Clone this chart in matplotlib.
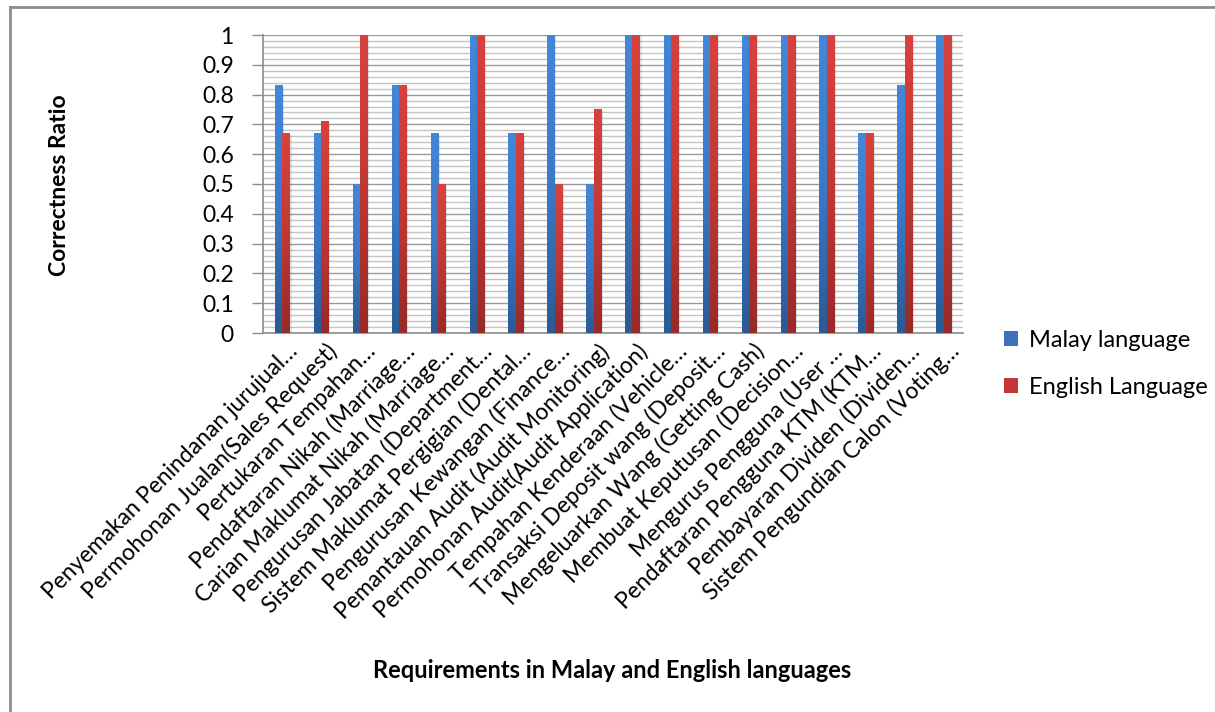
import numpy as np
import matplotlib
matplotlib.use("Agg")
import matplotlib.pyplot as plt
from matplotlib.colors import LinearSegmentedColormap
from matplotlib.patches import Patch
from matplotlib.ticker import MultipleLocator, FormatStrFormatter
from matplotlib.transforms import ScaledTranslation

requirements = [
    "Penyemakan Penindanan jurujual…",
    "Permohonan Jualan(Sales Request)",
    "Pertukaran Tempahan…",
    "Pendaftaran Nikah (Marriage…",
    "Carian Maklumat Nikah (Marriage…",
    "Pengurusan Jabatan (Department…",
    "Sistem Maklumat Pergigian (Dental…",
    "Pengurusan Kewangan (Finance…",
    "Pemantauan Audit (Audit Monitoring)",
    "Permohonan Audit(Audit Application)",
    "Tempahan Kenderaan (Vehicle…",
    "Transaksi Deposit wang (Deposit…",
    "Mengeluarkan Wang (Getting Cash)",
    "Membuat Keputusan (Decision…",
    "Mengurus Pengguna (User …",
    "Pendaftaran Pengguna KTM (KTM…",
    "Pembayaran Dividen (Dividen…",
    "Sistem Pengundian Calon (Voting…",
]
malay = [0.83, 0.67, 0.50, 0.83, 0.67, 1.00, 0.67, 1.00, 0.50,
         1.00, 1.00, 1.00, 1.00, 1.00, 1.00, 0.67, 0.83, 1.00]
english = [0.67, 0.71, 1.00, 0.83, 0.50, 1.00, 0.67, 0.50, 0.75,
           1.00, 1.00, 1.00, 1.00, 1.00, 1.00, 0.67, 1.00, 1.00]
series_names = ["Malay language", "English Language"]

plt.rcParams['font.family'] = ['Lato', 'DejaVu Sans']

W, H = 1215, 712
fig = plt.figure(figsize=(W / 100, H / 100), dpi=100)

# outer chart frame (only top and left edges fall inside the canvas)
fig.add_artist(plt.Line2D([10 / W, 10 / W], [0, 1 - 7 / H], transform=fig.transFigure,
                          color="#8c8c8c", lw=2))
fig.add_artist(plt.Line2D([10 / W, 1], [1 - 7 / H, 1 - 7 / H], transform=fig.transFigure,
                          color="#8c8c8c", lw=2))

ax = fig.add_axes([263 / W, 1 - 333 / H, 700 / W, 298 / H])

x = np.arange(len(requirements))
bw = 0.19

blue_cmap = LinearSegmentedColormap.from_list("blue_grad", ["#2b5a94", "#3b79c9", "#4486d8"])
red_cmap = LinearSegmentedColormap.from_list("red_grad", ["#982a27", "#c23835", "#d8423e"])
grad = np.linspace(0, 1, 256).reshape(-1, 1)

series = [(malay, -bw / 2, blue_cmap, "#3a72be"), (english, bw / 2, red_cmap, "#c23835")]
for vals, off, cmap, base in series:
    # soft drop shadow to the right of each bar
    ax.bar(x + off + 0.045, vals, bw, bottom=-0.004, color="#000000", alpha=0.10,
           zorder=2, linewidth=0)
    bars = ax.bar(x + off, vals, bw, color=base, zorder=3, linewidth=0)
    for b in bars:
        x0, w_, h = b.get_x(), b.get_width(), b.get_height()
        ax.imshow(grad, cmap=cmap, origin="lower", aspect="auto",
                  extent=[x0, x0 + w_, 0, h], zorder=4, interpolation="bilinear")

ax.set_xlim(-0.5, len(requirements) - 0.5)
ax.set_ylim(0, 1)

ax.yaxis.set_major_locator(MultipleLocator(0.1))
ax.yaxis.set_minor_locator(MultipleLocator(0.02))
ax.yaxis.set_major_formatter(FormatStrFormatter("%g"))
ax.grid(which="major", axis="y", color="#9a9a9a", lw=1.0, zorder=0)
ax.grid(which="minor", axis="y", color="#c4c4c4", lw=1.0, zorder=0)
ax.tick_params(axis="y", which="major", length=8, width=1, color="#8c8c8c",
               labelsize=16.5, pad=13)
ax.tick_params(axis="y", which="minor", length=0)
ax.tick_params(axis="x", length=0, labelsize=16.5, pad=0)

for s in ["top", "right"]:
    ax.spines[s].set_visible(False)
for s in ["left", "bottom"]:
    ax.spines[s].set_color("#8c8c8c")
    ax.spines[s].set_linewidth(1.2)

ax.set_xticks(x)
ax.set_xticklabels(requirements)
shift = ScaledTranslation(12 / 100, -15 / 100, fig.dpi_scale_trans)
for lab in ax.get_xticklabels():
    lab.set_rotation(45)
    lab.set_ha("right")
    lab.set_va("center")
    lab.set_rotation_mode("anchor")
    lab.set_transform(lab.get_transform() + shift)

fig.text(612 / W, 1 - 671 / H, "Requirements in Malay and English languages",
         ha="center", va="center", fontsize=17, fontweight="bold")
fig.text(60 / W, 1 - 185 / H, "Correctness Ratio", ha="center", va="center",
         rotation=90, fontsize=16.5, fontweight="bold")

handles = [Patch(facecolor="#3a72be", edgecolor="none"),
           Patch(facecolor="#c23835", edgecolor="none")]
fig.legend(handles, series_names, loc="center left",
           bbox_to_anchor=(1004 / W, 1 - 364 / H), frameon=False,
           borderpad=0, borderaxespad=0,
           fontsize=17, handlelength=0.6, handleheight=0.6,
           handletextpad=0.45, labelspacing=1.1)

fig.savefig("out.png", dpi=100)
